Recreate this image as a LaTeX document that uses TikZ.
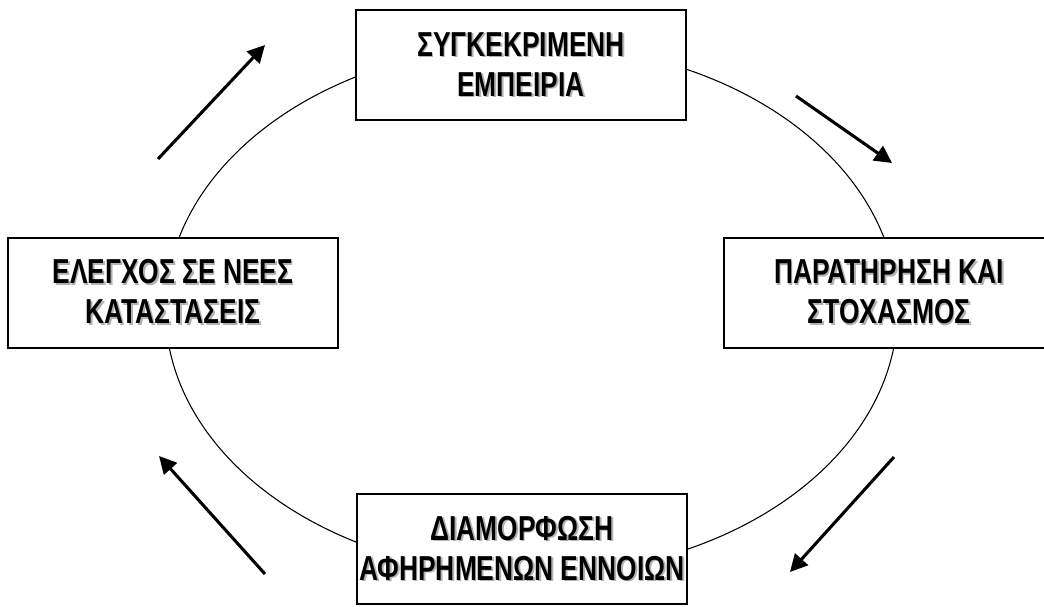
\documentclass[tikz,border=0pt]{standalone}
\usepackage{fontspec}
\setmainfont{Liberation Sans}
\newfontfamily\boxfont[FakeStretch=0.76]{Liberation Sans}
\usetikzlibrary{arrows.meta}
\newcommand{\sh}[1]{\makebox[0pt][l]{\hspace{1.2pt}\raisebox{-1.2pt}{\color{black!30}#1}}#1}
\tikzset{
  stage/.style={draw, line width=1.5pt, fill=white, inner sep=0pt,
    minimum width=247.5pt, minimum height=82.5pt, align=center,
    font=\boxfont\bfseries\fontsize{26}{30}\selectfont},
  flow/.style={line width=2.3pt, -{Triangle[length=13pt,width=13pt]}}
}
\begin{document}
\begin{tikzpicture}[x=0.75pt, y=-0.75pt]
    \useasboundingbox (0,0) rectangle (1044,606);
    \clip (0,0) rectangle (1044,606);
    % cycle
    \draw[line width=0.8pt] (531.5,309.4) ellipse [x radius=366, y radius=265];
    \node[stage] (exp) at (521,65) {\sh{ΣΥΓΚΕΚΡΙΜΕΝΗ}\\\sh{ΕΜΠΕΙΡΙΑ}};
    \node[stage] (obs) at (889,292.5) {\sh{ΠΑΡΑΤΗΡΗΣΗ ΚΑΙ}\\\sh{ΣΤΟΧΑΣΜΟΣ}};
    \node[stage] (abs) at (522,549) {\sh{ΔΙΑΜΟΡΦΩΣΗ}\\\sh{ΑΦΗΡΗΜΕΝΩΝ ΕΝΝΟΙΩΝ}};
    \node[stage] (test) at (173,292.5) {\sh{ΕΛΕΓΧΟΣ ΣΕ ΝΕΕΣ}\\\sh{ΚΑΤΑΣΤΑΣΕΙΣ}};
    % arrows
    \coordinate (tlA) at (158,159); \coordinate (tlB) at (265,45);
    \coordinate (trA) at (796,96);  \coordinate (trB) at (892,163);
    \coordinate (brA) at (894,457); \coordinate (brB) at (790,572);
    \coordinate (blA) at (265,574); \coordinate (blB) at (159,456);
    \draw[flow] (tlA) -- (tlB);
    \draw[flow] (trA) -- (trB);
    \draw[flow] (brA) -- (brB);
    \draw[flow] (blA) -- (blB);
\end{tikzpicture}
\end{document}
